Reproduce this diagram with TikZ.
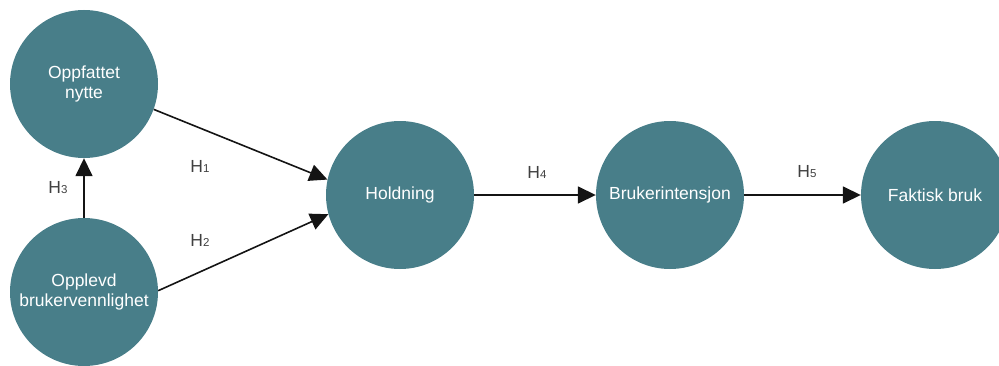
\documentclass[tikz,border=0pt]{standalone}
\usepackage{fontspec}
\setmainfont{Liberation Sans}
\usetikzlibrary{arrows.meta}
\definecolor{construct}{HTML}{487E89}
\definecolor{hyplabel}{HTML}{404040}
\definecolor{pathline}{HTML}{141414}
\tikzset{
  construct/.style={circle, fill=construct, draw=none, minimum size=148pt,
    inner sep=0pt, text=white, align=center,
    font=\fontsize{17.5}{20}\selectfont},
  path/.style={draw=pathline, line width=1.6pt,
    -{Triangle[length=18pt,width=17pt]}},
  hyp/.style={text=hyplabel, inner sep=0pt, font=\fontsize{17.5}{20}\selectfont}
}
\newcommand{\hypo}[1]{H{\fontsize{11.5}{12}\selectfont #1}}
\begin{document}
\begin{tikzpicture}[x=1pt,y=1pt]
  \useasboundingbox (0,0) rectangle (999,365);
  \clip (0,0) rectangle (999,365);

  % constructs of the model
  \node[construct] (nytte)   at (84,281)  {Oppfattet\\nytte};
  \node[construct] (venn)    at (84,73)   {Opplevd\\brukervennlighet};
  \node[construct] (hold)    at (400,170) {Holdning};
  \node[construct] (intens)  at (670,170) {Brukerintensjon};
  \node[construct] (faktisk) at (935,170) {Faktisk bruk};

  % hypothesised paths
  \draw[path] (venn.north) -- (nytte.south);
  \draw[path] (nytte.-20) -- (hold.168);
  \draw[path] (venn.1.5) -- (hold.195.5);
  \draw[path] (hold.east) -- (intens.west);
  \draw[path] (intens.east) -- (faktisk.west);

  % hypothesis labels
  \node[hyp] (h1) at (200,199) {\hypo{1}};
  \node[hyp] (h2) at (200,125) {\hypo{2}};
  \node[hyp] (h3) at (58,177)  {\hypo{3}};
  \node[hyp] (h4) at (537,193) {\hypo{4}};
  \node[hyp] (h5) at (807,193) {\hypo{5}};
\end{tikzpicture}
\end{document}
